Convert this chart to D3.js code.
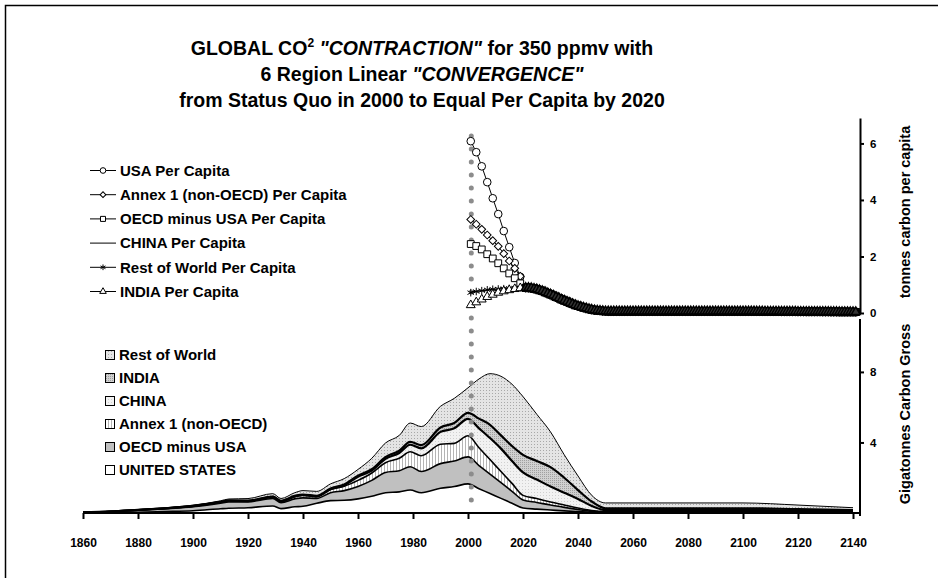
<!DOCTYPE html>
<html><head><meta charset="utf-8">
<script src="https://cdn.jsdelivr.net/npm/d3@7"></script>
<style>body{margin:0;background:#fff}svg{display:block;font-family:"Liberation Sans",Arial,sans-serif}</style>
</head><body><svg id="c" width="938" height="578"></svg>
<script>
// ---------- DATA ----------
const xTicks = [1860,1880,1900,1920,1940,1960,1980,2000,2020,2040,2060,2080,2100,2120,2140];
const upperTicks = [0,2,4,6];
const lowerTicks = [4,8];

// Gross emissions, GtC
const years = [1860,1870,1880,1890,1900,1910,1913,1920,1929,1932,1937,1940,1945,1950,1955,1960,1965,1970,1975,1979,1983,1990,1995,2000,2004,2008,2012,2016,2020,2025,2030,2035,2040,2045,2050,2060,2080,2100,2120,2140];
const usaGt   = [0.01,0.02,0.04,0.08,0.13,0.24,0.27,0.30, 0.40,0.25,0.35,0.38,0.55,0.70,0.72,0.80, 0.95,1.15,1.20,1.30,1.15,1.40,1.50,1.65, 1.38,1.10,0.83,0.55,0.28,0.22,0.17,0.12, 0.08,0.04,0.03,0.03,0.03,0.03,0.025,0.02];
const oecdGt  = [0.03,0.06,0.12,0.16,0.22,0.31,0.35,0.33, 0.42,0.34,0.45,0.48,0.28,0.45,0.55,0.70, 0.90,1.15,1.20,1.32,1.20,1.40,1.45,1.53, 1.31,1.10,0.89,0.68,0.46,0.38,0.28,0.20, 0.12,0.06,0.04,0.04,0.04,0.04,0.035,0.02];
const annexGt = [0,0.005,0.01,0.02,0.04,0.06,0.07,0.04, 0.08,0.07,0.12,0.14,0.10,0.18,0.25,0.35, 0.42,0.55,0.70,0.85,0.90,1.10,1.00,1.20, 1.01,0.83,0.63,0.45,0.26,0.22,0.17,0.13, 0.08,0.04,0.02,0.02,0.02,0.02,0.02,0.01];
const chinaGt = [0,0,0.001,0.002,0.003,0.005,0.006,0.008, 0.012,0.012,0.02,0.02,0.015,0.02,0.05,0.21, 0.13,0.22,0.30,0.40,0.42,0.70,0.85,0.96, 1.10,1.22,1.30,1.27,1.30,1.08,0.88,0.70, 0.52,0.26,0.08,0.08,0.08,0.08,0.06,0.05];
const indiaGt = [0,0.002,0.005,0.008,0.01,0.015,0.018,0.02, 0.025,0.02,0.03,0.03,0.03,0.04,0.05,0.06, 0.08,0.10,0.13,0.16,0.18,0.25,0.30,0.34, 0.55,0.75,0.75,0.85,1.00,1.05,1.10,0.85, 0.50,0.25,0.10,0.10,0.10,0.10,0.08,0.07];
const rowGt   = [0.005,0.01,0.02,0.03,0.04,0.06,0.08,0.12, 0.16,0.13,0.18,0.22,0.25,0.26,0.33,0.35, 0.62,0.80,0.87,1.07,1.05,1.20,1.40,1.42, 2.25,2.90,3.35,3.50,3.30,2.65,2.00,1.30, 0.80,0.35,0.30,0.30,0.30,0.30,0.23,0.13];

// Per capita, tonnes carbon: convergence phase (every 2 years, 2001-2019)
const preYears = [2001,2003,2005,2007,2009,2011,2013,2015,2017,2019];
const usaPre   = [6.08,5.69,5.19,4.63,4.06,3.50,2.90,2.33,1.77,1.28];
const annexPre = [3.31,3.14,2.96,2.76,2.56,2.36,2.10,1.84,1.58,1.30];
const oecdPre  = [2.44,2.37,2.25,2.08,1.93,1.76,1.58,1.40,1.23,1.05];
const chinaPre = [0.74,0.77,0.79,0.81,0.83,0.85,0.86,0.87,0.88,0.89];
const rowPre   = [0.72,0.76,0.79,0.82,0.84,0.85,0.86,0.87,0.88,0.89];
const indiaPre = [0.28,0.38,0.48,0.57,0.65,0.72,0.77,0.81,0.85,0.88];
// Converged & contracting phase, shared by all six regions (annual, 2021-2141)
const convYears = d3.range(2021, 2142);
const converged = [
  0.89,0.89,0.88,0.86,0.84,0.81,0.78,0.74,0.70,0.66,
  0.62,0.57,0.53,0.48,0.44,0.40,0.36,0.32,0.28,0.25,
  0.22,0.19,0.17,0.14,0.12,0.10,0.09,0.08,0.07,0.065,
  0.06,0.06,0.06,0.06,0.06,0.06,0.06,0.06,0.06,0.06,
  0.06,0.06,0.06,0.06,0.06,0.06,0.06,0.06,0.06,0.06,
  0.06,0.06,0.06,0.06,0.06,0.06,0.06,0.06,0.06,0.06,
  0.06,0.06,0.06,0.06,0.06,0.06,0.06,0.06,0.06,0.06,
  0.06,0.06,0.06,0.06,0.06,0.06,0.06,0.06,0.06,0.06,
  0.06,0.06,0.06,0.06,0.058,0.058,0.058,0.056,0.056,0.056,
  0.054,0.054,0.054,0.052,0.052,0.052,0.05,0.05,0.05,0.048,
  0.048,0.048,0.046,0.046,0.046,0.044,0.044,0.044,0.042,0.042,
  0.042,0.04,0.04,0.04,0.038,0.038,0.038,0.036,0.036,0.036,
  0.035];

const pcNames = ["USA Per Capita","Annex 1 (non-OECD) Per Capita","OECD minus USA Per Capita","CHINA Per Capita","Rest of World Per Capita","INDIA Per Capita"];
const pcSymbols = ["circle","diamond","square","none","asterisk","triangle"];
const gtNames = ["UNITED STATES","OECD minus USA","Annex 1 (non-OECD)","CHINA","INDIA","Rest of World"];

// ---------- BUILD ----------
const svg = d3.select("#c");
const defs = svg.append("defs");
function dotPattern(id, bg, dot, size){
  const p = defs.append("pattern").attr("id",id).attr("width",size).attr("height",size).attr("patternUnits","userSpaceOnUse");
  p.append("rect").attr("width",size).attr("height",size).attr("fill",bg);
  p.append("rect").attr("x",0).attr("y",0).attr("width",1).attr("height",1).attr("fill",dot);
}
dotPattern("pRow","#e4e4e4","#a8a8a8",3);
dotPattern("pIndia","#d0d0d0","#a0a0a0",2);
dotPattern("pChina","#f2f2f2","#d0d0d0",3);
const ps = defs.append("pattern").attr("id","pAnnex").attr("width",3).attr("height",3).attr("patternUnits","userSpaceOnUse");
ps.append("rect").attr("width",3).attr("height",3).attr("fill","#fff");
ps.append("rect").attr("width",1).attr("height",3).attr("fill","#b4b4b4");
const gtFills = ["#ffffff","#c0c0c0","url(#pAnnex)","url(#pChina)","url(#pIndia)","url(#pRow)"];
const gtStroke = [1.6,1.6,1.6,2.2,2.2,1];

// frame
svg.append("path").attr("d","M5.5,600 V5.5 H1000").attr("fill","none").attr("stroke","#000").attr("stroke-width",1.5);

const x = d3.scaleLinear().domain([1860,2140]).range([83,853]);
const yU = d3.scaleLinear().domain([0,6.9]).range([313,118]);
const yL = d3.scaleLinear().domain([0,11]).range([513,319]);
const axisX = 860;

// Title
const title = svg.append("text").attr("x",422).attr("y",55).attr("text-anchor","middle")
  .attr("font-weight","bold").attr("font-size",19.5);
title.append("tspan").text("GLOBAL CO");
title.append("tspan").attr("font-size",12).attr("dy",-8).text("2");
title.append("tspan").attr("dy",8).text("\u00a0");
title.append("tspan").attr("font-style","italic").text("\"CONTRACTION\"");
title.append("tspan").text(" for 350 ppmv with");
const t2 = svg.append("text").attr("x",422).attr("y",81).attr("text-anchor","middle").attr("font-weight","bold").attr("font-size",19.5);
t2.append("tspan").text("6 Region Linear ");
t2.append("tspan").attr("font-style","italic").text("\"CONVERGENCE\"");
svg.append("text").attr("x",422).attr("y",107).attr("text-anchor","middle").attr("font-weight","bold").attr("font-size",19.5)
  .text("from Status Quo in 2000 to Equal Per Capita by 2020");

// ---------- LOWER STACKED AREA ----------
const gtSeries = [usaGt,oecdGt,annexGt,chinaGt,indiaGt,rowGt];
const table = years.map((yr,i)=>{const o={year:yr}; gtNames.forEach((n,k)=>o[n]=gtSeries[k][i]); return o;});
const stack = d3.stack().keys(gtNames)(table);
const area = d3.area().x(d=>x(d.data.year)).y0(d=>yL(d[0])).y1(d=>yL(d[1])).curve(d3.curveMonotoneX);
const topLine = d3.line().x(d=>x(d.data.year)).y(d=>yL(d[1])).curve(d3.curveMonotoneX);
const gL = svg.append("g");
stack.forEach((s,k)=>{
  gL.append("path").attr("d",area(s)).attr("fill",gtFills[k]);
});
stack.forEach((s,k)=>{
  gL.append("path").attr("d",topLine(s)).attr("fill","none").attr("stroke","#000").attr("stroke-width",gtStroke[k]);
});

// ---------- DOTTED 2000 LINE ----------
svg.append("line").attr("x1",x(2001.2)).attr("x2",x(2001.2)).attr("y1",136).attr("y2",513)
  .attr("stroke","#8c8c8c").attr("stroke-width",5).attr("stroke-linecap","round").attr("stroke-dasharray","0 13");

// ---------- UPPER PER CAPITA ----------
const pcPre = [usaPre,annexPre,oecdPre,chinaPre,rowPre,indiaPre];
const pcPts = pcPre.map(p => preYears.map((yr,i)=>({year:yr, v:p[i], conv:false})).concat(convYears.map((yr,i)=>({year:yr, v:converged[i], conv:true}))));
const line = d3.line().x(d=>x(d.year)).y(d=>yU(d.v));
function symPath(type, big){
  const m = big ? 1 : 0.55;
  switch(type){
    case "circle": return d3.symbol().type(d3.symbolCircle).size(46*m)();
    case "diamond": return d3.symbol().type(d3.symbolSquare).size(30*m)();
    case "square": return d3.symbol().type(d3.symbolSquare).size(46*m)();
    case "triangle": return d3.symbol().type(d3.symbolTriangle).size(34*m)();
    case "asterisk": return d3.symbol().type(d3.symbolAsterisk).size(40*m)();
  }
  return null;
}
const gU = svg.append("g");
pcPts.forEach((pts,k)=>{
  gU.append("path").attr("d",line(pts)).attr("fill","none").attr("stroke","#000").attr("stroke-width",1);
  const t = pcSymbols[k];
  if(t!=="none"){
    gU.selectAll(null).data(pts).join("path")
      .attr("d",symPath(t,true))
      .attr("transform",d=>`translate(${x(d.year)},${yU(d.v)})`+(t==="diamond"?" rotate(45)":""))
      .attr("fill",d=>d.conv?"#333":"#fff").attr("stroke","#000").attr("stroke-width",d=>d.conv?1.4:1);
  }
});

// ---------- AXES ----------
const gx = svg.append("g").attr("transform","translate(0,513)")
  .call(d3.axisBottom(x).tickValues(xTicks).tickFormat(d3.format("d")).tickSize(6).tickSizeOuter(0));
gx.select(".domain").attr("d",`M83,0H${axisX}`).attr("stroke-width",2);
gx.selectAll(".tick line").attr("stroke-width",2);
gx.selectAll("text").attr("font-family","Liberation Sans, Arial, sans-serif").attr("font-weight","bold").attr("font-size",12).attr("dy","2.1em");

const gyU = svg.append("g").attr("transform",`translate(${axisX},0)`)
  .call(d3.axisRight(yU).tickValues(upperTicks).tickFormat(d3.format("d")).tickSize(4).tickSizeOuter(0));
const gyL = svg.append("g").attr("transform",`translate(${axisX},0)`)
  .call(d3.axisRight(yL).tickValues(lowerTicks).tickFormat(d3.format("d")).tickSize(4).tickSizeOuter(0));
[gyU,gyL].forEach(g=>{
  g.select(".domain").attr("stroke-width",2);
  g.selectAll(".tick line").attr("stroke-width",2);
  g.selectAll("text").attr("font-family","Liberation Sans, Arial, sans-serif").attr("font-weight","bold").attr("font-size",11.5).attr("x",10);
});
gyL.select(".domain").attr("d",`M0,319V516`);

svg.append("text").attr("transform","translate(910,212) rotate(-90)").attr("text-anchor","middle")
  .attr("font-weight","bold").attr("font-size",14.5).text("tonnes carbon per capita");
svg.append("text").attr("transform","translate(910,414) rotate(-90)").attr("text-anchor","middle")
  .attr("font-weight","bold").attr("font-size",14.5).text("Gigatonnes Carbon Gross");

// ---------- LEGENDS ----------
const lgU = svg.append("g");
pcNames.forEach((n,k)=>{
  const cy = 170.5 + k*24.2;
  lgU.append("line").attr("x1",90).attr("x2",116).attr("y1",cy).attr("y2",cy).attr("stroke","#000").attr("stroke-width",1);
  const t = pcSymbols[k];
  if(t!=="none") lgU.append("path").attr("d",symPath(t,false))
    .attr("transform",`translate(103,${cy})`+(t==="diamond"?" rotate(45)":"")).attr("fill","#fff").attr("stroke","#000");
  lgU.append("text").attr("x",120).attr("y",cy+5.2).attr("font-weight","bold").attr("font-size",15).text(n);
});
const lgL = svg.append("g");
gtNames.slice().reverse().forEach((n,k)=>{
  const cy = 355 + k*23;
  const idx = gtNames.length-1-k;
  lgL.append("rect").attr("x",105.5).attr("y",cy-4.5).attr("width",9).attr("height",9)
    .attr("fill",gtFills[idx]).attr("stroke","#000").attr("stroke-width",1);
  lgL.append("text").attr("x",119).attr("y",cy+5.2).attr("font-weight","bold").attr("font-size",15).text(n);
});
</script></body></html>
